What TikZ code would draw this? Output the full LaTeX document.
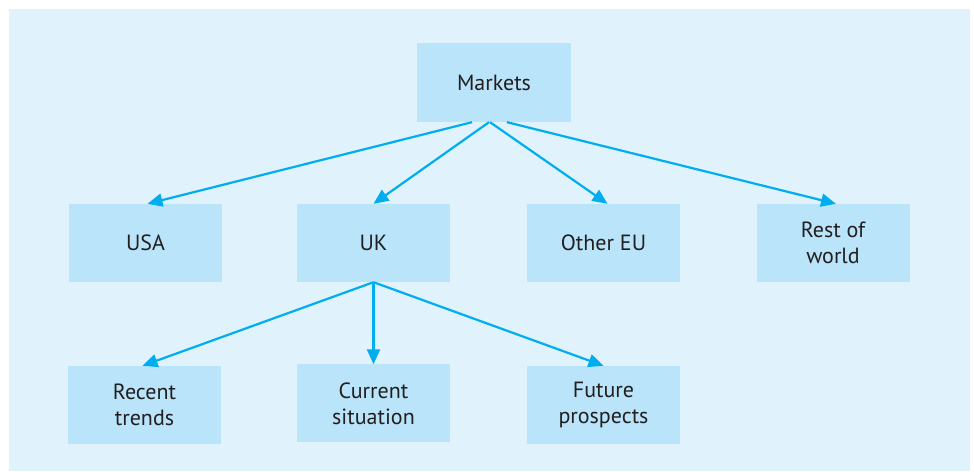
\documentclass[tikz,border=0pt]{standalone}
\usepackage{fontspec}
\setmainfont{PT Sans}
\usetikzlibrary{arrows.meta}
\definecolor{bgblue}{HTML}{E0F2FB}
\definecolor{boxblue}{HTML}{B9E4F9}
\definecolor{linkblue}{HTML}{00AEEF}
\definecolor{inkgray}{HTML}{231F20}

\begin{document}
\begin{tikzpicture}[x=1pt,y=1pt,
  topic/.style={fill=boxblue,text=inkgray,minimum width=153pt,minimum height=78pt,
    inner sep=0pt,align=center,font=\fontsize{22}{26}\selectfont},
  link/.style={draw=linkblue,line width=2.2pt,-{Triangle[length=15pt,width=13pt]}}]
\path[use as bounding box] (0,0) rectangle (974,471);
\fill[bgblue] (9,0) rectangle (970,462);
% top level
\node[topic,minimum width=154pt,minimum height=79pt] (mkt) at (494,388.5) {Markets};
% markets
\node[topic] (usa) at (145.5,228) {USA};
\node[topic] (uk) at (373.5,228) {UK};
\node[topic] (eu) at (603.5,228) {Other EU};
\node[topic] (row) at (833,228) {Rest of\\world};
% uk detail
\node[topic] (rec) at (144.5,66) {Recent\\trends};
\node[topic] (cur) at (373.5,67.5) {Current\\situation};
\node[topic] (fut) at (603.5,66) {Future\\prospects};
\draw[link] ([xshift=-22pt]mkt.south) -- ([xshift=2pt]usa.north);
\draw[link] ([xshift=-5pt]mkt.south) -- (uk.north);
\draw[link] ([xshift=-4pt]mkt.south) -- ([xshift=4pt]eu.north);
\draw[link] ([xshift=13pt]mkt.south) -- ([xshift=3pt]row.north);
\draw[link] (uk.south) -- ([xshift=-2pt]rec.north);
\draw[link] (uk.south) -- (cur.north);
\draw[link] (uk.south) -- (fut.north);
\end{tikzpicture}
\end{document}
